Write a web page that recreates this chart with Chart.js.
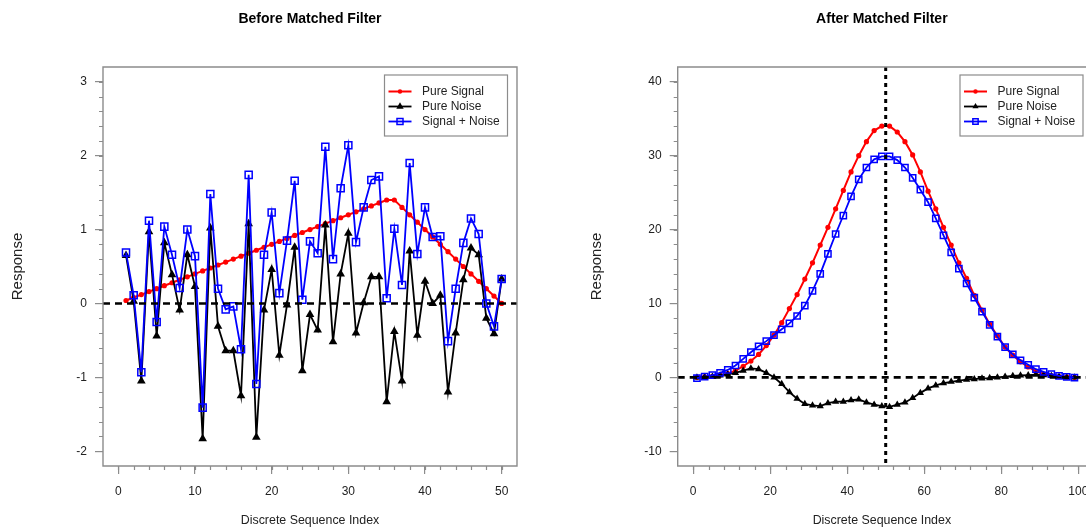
<!DOCTYPE html>
<html>
<head>
<meta charset="utf-8">
<script src="https://cdn.jsdelivr.net/npm/chart.js"></script>
<style>
  html, body { margin: 0; padding: 0; background: #fff; overflow: hidden; width: 1086px; height: 529px; }
  canvas { position: absolute; top: 0; }
  #before { left: 0; }
  #after { left: 543px; }
</style>
</head>
<body>
<canvas id="before" width="543" height="529"></canvas>
<canvas id="after" width="543" height="529"></canvas>
<script>
// ---- Before matched filter (sequence index 1..50) ----
var beforeIndex = [1, 2, 3, 4, 5, 6, 7, 8, 9, 10, 11, 12, 13, 14, 15, 16, 17, 18, 19, 20,
  21, 22, 23, 24, 25, 26, 27, 28, 29, 30, 31, 32, 33, 34, 35, 36, 37, 38, 39, 40,
  41, 42, 43, 44, 45, 46, 47, 48, 49, 50];
var beforeSignal = [0.04, 0.08, 0.12, 0.16, 0.20, 0.24, 0.28, 0.32, 0.36, 0.40,
  0.44, 0.48, 0.52, 0.56, 0.60, 0.64, 0.68, 0.72, 0.76, 0.80,
  0.84, 0.88, 0.92, 0.96, 1.00, 1.04, 1.08, 1.12, 1.16, 1.20,
  1.24, 1.28, 1.32, 1.36, 1.40, 1.40, 1.30, 1.20, 1.10, 1.00,
  0.90, 0.80, 0.70, 0.60, 0.50, 0.40, 0.30, 0.20, 0.10, 0.00];
var beforeNoise = [0.65, 0.03, -1.05, 0.97, -0.44, 0.82, 0.39, -0.09, 0.66, 0.23,
  -1.83, 1.02, -0.31, -0.64, -0.64, -1.25, 1.08, -1.81, -0.09, 0.46,
  -0.70, -0.02, 0.76, -0.91, -0.15, -0.36, 1.06, -0.52, 0.40, 0.95,
  -0.40, 0.01, 0.36, 0.36, -1.33, -0.38, -1.05, 0.71, -0.43, 0.30,
  0.00, 0.11, -1.20, -0.40, 0.32, 0.75, 0.66, -0.20, -0.41, 0.33];
var beforeMixed = [0.69, 0.11, -0.93, 1.12, -0.25, 1.04, 0.66, 0.21, 1.00, 0.64,
  -1.41, 1.48, 0.20, -0.08, -0.04, -0.62, 1.74, -1.09, 0.66, 1.23,
  0.14, 0.85, 1.66, 0.05, 0.84, 0.68, 2.12, 0.60, 1.56, 2.14,
  0.83, 1.30, 1.67, 1.72, 0.07, 1.01, 0.25, 1.90, 0.67, 1.30,
  0.90, 0.91, -0.51, 0.20, 0.82, 1.15, 0.94, 0.00, -0.31, 0.33];
var beforeXTicks = [0, 10, 20, 30, 40, 50];
var beforeYTicks = [-2, -1, 0, 1, 2, 3];

// ---- After matched filter (every other index 1..99) ----
var afterIndex = [1, 3, 5, 7, 9, 11, 13, 15, 17, 19, 21, 23, 25, 27, 29, 31, 33, 35, 37, 39,
  41, 43, 45, 47, 49, 51, 53, 55, 57, 59, 61, 63, 65, 67, 69, 71, 73, 75, 77, 79,
  81, 83, 85, 87, 89, 91, 93, 95, 97, 99];
var afterSignal = [0.0, 0.05, 0.15, 0.3, 0.5, 0.9, 1.5, 2.2, 3.1, 4.3,
  5.7, 7.4, 9.3, 11.2, 13.3, 15.5, 17.9, 20.3, 22.8, 25.3,
  27.8, 30.0, 31.9, 33.4, 34.0, 34.0, 33.2, 31.9, 30.1, 27.8,
  25.2, 22.8, 20.3, 17.9, 15.5, 13.4, 11.1, 9.1, 7.2, 5.6,
  4.1, 3.0, 2.1, 1.4, 0.8, 0.45, 0.25, 0.1, 0.05, 0.0];
var afterNoise = [0.0, 0.05, 0.1, 0.25, 0.4, 0.6, 0.9, 1.2, 1.1, 0.6,
  0.0, -0.9, -2.0, -2.9, -3.6, -3.8, -3.9, -3.5, -3.3, -3.3,
  -3.1, -3.0, -3.4, -3.7, -3.9, -4.0, -3.7, -3.4, -2.8, -2.1,
  -1.5, -1.1, -0.8, -0.6, -0.45, -0.3, -0.25, -0.15, -0.1, 0.0,
  0.1, 0.2, 0.25, 0.3, 0.35, 0.3, 0.2, 0.1, 0.0, 0.0];
var afterMixed = [-0.1, 0.1, 0.3, 0.6, 1.0, 1.6, 2.5, 3.4, 4.2, 4.9,
  5.7, 6.5, 7.3, 8.3, 9.7, 11.7, 14.0, 16.7, 19.4, 21.9,
  24.5, 26.8, 28.4, 29.5, 29.9, 29.9, 29.4, 28.4, 27.0, 25.4,
  23.7, 21.5, 19.2, 16.9, 14.7, 12.7, 10.8, 8.9, 7.1, 5.5,
  4.1, 3.1, 2.3, 1.7, 1.1, 0.75, 0.45, 0.2, 0.05, -0.05];
var afterXTicks = [0, 20, 40, 60, 80, 100];
var afterYTicks = [-10, 0, 10, 20, 30, 40];

var FONT = '"Liberation Sans", Arial, sans-serif';
var GREY = '#8c8c8c';

function pts(xs, ys) {
  return xs.map(function (x, i) { return { x: x, y: ys[i] }; });
}

// frame, minor ticks, reference lines and boxed legend (R style)
var rFrame = {
  id: 'rFrame',
  afterDatasetsDraw: function (chart, args, opts) {
    var ctx = chart.ctx, a = chart.chartArea;
    var xs = chart.scales.x, ys = chart.scales.y;

    // dashed reference lines
    ctx.save();
    ctx.beginPath();
    ctx.rect(a.left, a.top, a.width, a.height);
    ctx.clip();
    ctx.strokeStyle = '#000';
    ctx.lineWidth = 2.6;
    ctx.setLineDash([7, 5]);
    opts.refY.forEach(function (v) {
      var y = ys.getPixelForValue(v);
      ctx.beginPath(); ctx.moveTo(a.left, y); ctx.lineTo(a.right, y); ctx.stroke();
    });
    ctx.setLineDash([4, 4]);
    ctx.lineWidth = 3;
    opts.refX.forEach(function (v) {
      var x = xs.getPixelForValue(v);
      ctx.beginPath(); ctx.moveTo(x, a.top); ctx.lineTo(x, a.bottom); ctx.stroke();
    });
    ctx.restore();

    // box (right side may run past the picture)
    ctx.save();
    ctx.strokeStyle = GREY;
    ctx.lineWidth = 1.4;
    ctx.beginPath();
    if (opts.openRight) {
      ctx.moveTo(a.right + 2, a.top); ctx.lineTo(a.left, a.top);
      ctx.lineTo(a.left, a.bottom); ctx.lineTo(a.right + 2, a.bottom);
    } else {
      ctx.rect(a.left, a.top, a.width, a.height);
    }
    ctx.stroke();

    // minor ticks
    ctx.lineWidth = 1.2;
    ctx.beginPath();
    var t = opts.xMinor;
    for (var v = t[0]; v <= t[1] + 1e-9; v += t[2]) {
      var px = Math.round(xs.getPixelForValue(v)) + 0.5;
      ctx.moveTo(px, a.bottom); ctx.lineTo(px, a.bottom + 4);
    }
    t = opts.yMinor;
    for (v = t[0]; v <= t[1] + 1e-9; v += t[2]) {
      var py = Math.round(ys.getPixelForValue(v)) + 0.5;
      ctx.moveTo(a.left, py); ctx.lineTo(a.left - 4, py);
    }
    ctx.stroke();

    // legend box
    var w = 123, h = 61;
    var bx = a.right - opts.legendRight - w, by = a.top + 8;
    ctx.fillStyle = '#fff';
    ctx.fillRect(bx, by, w, h);
    ctx.strokeStyle = GREY;
    ctx.lineWidth = 1.2;
    ctx.strokeRect(bx, by, w, h);
    ctx.font = '12px ' + FONT;
    ctx.textBaseline = 'middle';
    chart.data.datasets.forEach(function (ds, i) {
      var ry = by + 16.5 + i * 15;
      ctx.strokeStyle = ds.borderColor;
      ctx.lineWidth = ds.borderWidth;
      ctx.beginPath(); ctx.moveTo(bx + 4, ry); ctx.lineTo(bx + 27, ry); ctx.stroke();
      ctx.fillStyle = ds.pointBackgroundColor;
      ctx.strokeStyle = ds.pointBorderColor;
      ctx.lineWidth = ds.pointBorderWidth;
      Chart.helpers.drawPoint(ctx, {
        pointStyle: ds.pointStyle, radius: ds.pointRadius * 0.85, rotation: 0,
        borderWidth: ds.pointBorderWidth
      }, bx + 15.5, ry);
      ctx.fillStyle = '#222';
      ctx.fillText(ds.label, bx + 37.5, ry + 0.5);
    });
    ctx.restore();
  }
};

function makeDatasets(xs, sig, noise, mixed, small) {
  return [
    {
      label: 'Pure Signal', data: pts(xs, sig), order: 3,
      borderColor: '#ff0000', borderWidth: 2,
      pointStyle: 'circle', pointRadius: 2.6,
      pointBackgroundColor: '#ff0000', pointBorderColor: '#ff0000', pointBorderWidth: 0
    },
    {
      label: 'Pure Noise', data: pts(xs, noise), order: 2,
      borderColor: '#000000', borderWidth: 1.8,
      pointStyle: 'triangle', pointRadius: small ? 4.2 : 5,
      pointBackgroundColor: '#000000', pointBorderColor: '#000000', pointBorderWidth: 0
    },
    {
      label: 'Signal + Noise', data: pts(xs, mixed), order: 1,
      borderColor: '#0000ff', borderWidth: 1.8,
      pointStyle: 'rect', pointRadius: small ? 4.4 : 5,
      pointBackgroundColor: 'rgba(255,255,255,0)', pointBorderColor: '#0000ff', pointBorderWidth: 1.5
    }
  ];
}

function xAxis(ticks, min, max) {
  return {
    type: 'linear', min: min, max: max,
    afterBuildTicks: function (s) { s.ticks = ticks.map(function (v) { return { value: v }; }); },
    afterFit: function (s) { s.height = 63; s.paddingLeft = 0; s.paddingRight = 0; },
    grid: { drawOnChartArea: false, drawTicks: true, tickLength: 8, color: GREY, lineWidth: 1.2 },
    border: { display: false },
    ticks: { color: '#222', font: { family: FONT, size: 12 }, padding: 10, maxRotation: 0, autoSkip: false },
    title: { display: true, text: 'Discrete Sequence Index', color: '#222',
      font: { family: FONT, size: 12.4 }, padding: { top: 0, bottom: 1 } }
  };
}

function yAxis(ticks, min, max, width, titleX) {
  return {
    type: 'linear', min: min, max: max,
    afterBuildTicks: function (s) { s.ticks = ticks.map(function (v) { return { value: v }; }); },
    afterFit: function (s) { s.width = width; },
    grid: { drawOnChartArea: false, drawTicks: true, tickLength: 8, color: GREY, lineWidth: 1.2 },
    border: { display: false },
    ticks: { color: '#222', font: { family: FONT, size: 12 }, padding: 8, autoSkip: false },
    title: { display: true, text: 'Response', color: '#222',
      font: { family: FONT, size: 15 }, padding: { top: titleX - 9, bottom: 0 } }
  };
}

function makeChart(id, title, datasets, xA, yA, padRight, frame) {
  return new Chart(document.getElementById(id), {
    type: 'line',
    data: { datasets: datasets },
    options: {
      responsive: false,
      animation: false,
      events: [],
      layout: { autoPadding: false, padding: { left: 0, right: padRight, top: 0, bottom: 0 } },
      elements: { line: { tension: 0 } },
      scales: { x: xA, y: yA },
      plugins: {
        legend: { display: false },
        tooltip: { enabled: false },
        title: {
          display: true, text: title, fullSize: false, color: '#000',
          font: { family: FONT, size: 14, weight: 'bold' },
          padding: { top: 11, bottom: 39.2 }
        },
        rFrame: frame
      }
    },
    plugins: [rFrame]
  });
}

makeChart('before', 'Before Matched Filter',
  makeDatasets(beforeIndex, beforeSignal, beforeNoise, beforeMixed, false),
  xAxis(beforeXTicks, -2, 52), yAxis(beforeYTicks, -2.2, 3.2, 103, 18), 26,
  { refY: [0], refX: [], xMinor: [0, 50, 2], yMinor: [-2, 3, 0.2], legendRight: 9.5, openRight: false });

// the right-hand plot runs a few pixels past the picture edge (x axis ends at 104)
makeChart('after', 'After Matched Filter',
  makeDatasets(afterIndex, afterSignal, afterNoise, afterMixed, true),
  xAxis(afterXTicks, -4, 102), yAxis(afterYTicks, -12, 42, 134.7, 54), 0,
  { refY: [0], refX: [50], xMinor: [0, 100, 4], yMinor: [-10, 40, 2], legendRight: 3, openRight: true });
</script>
</body>
</html>
